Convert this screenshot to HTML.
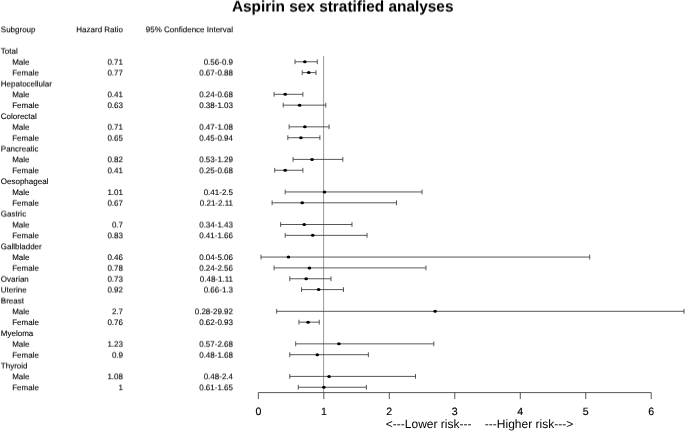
<!DOCTYPE html><html><head><meta charset="utf-8"><title>Aspirin sex stratified analyses</title>
<style>html,body{margin:0;padding:0;background:#fff}svg{display:block;filter:blur(0.35px)}text{text-rendering:geometricPrecision;font-family:"Liberation Sans",Arial,Helvetica,sans-serif;fill:#000}.t{font-size:8px;stroke:#000;stroke-width:0.1px}.a{font-size:10.6px;stroke:#000;stroke-width:0.14px}</style></head><body>
<svg width="685" height="432" viewBox="0 0 685 432">
<rect width="685" height="432" fill="#fff"/>
<defs>
<filter id="f25" x="-5%" y="-50%" width="110%" height="200%" color-interpolation-filters="sRGB"><feOffset dy="1" result="o"/><feComposite in="SourceGraphic" in2="o" operator="arithmetic" k2="0.75" k3="0.25"/></filter>
<filter id="f50" x="-5%" y="-50%" width="110%" height="200%" color-interpolation-filters="sRGB"><feOffset dy="1" result="o"/><feComposite in="SourceGraphic" in2="o" operator="arithmetic" k2="0.5" k3="0.5"/></filter>
<filter id="f75" x="-5%" y="-50%" width="110%" height="200%" color-interpolation-filters="sRGB"><feOffset dy="1" result="o"/><feComposite in="SourceGraphic" in2="o" operator="arithmetic" k2="0.25" k3="0.75"/></filter>
</defs>
<text x="342.7" y="11" filter="url(#f50)" text-anchor="middle" font-size="15.4" font-weight="bold">Aspirin sex stratified analyses</text>
<g filter="url(#f25)"><text class="t" x="0.8" y="32">Subgroup</text><text class="t" x="123" y="32" text-anchor="end">Hazard Ratio</text><text class="t" x="233" y="32" text-anchor="end">95% Confidence Interval</text></g>
<line x1="323.6" x2="323.6" y1="55.9" y2="392.6" stroke="#888" stroke-width="0.85"/>
<g filter="url(#f75)"><text class="t" x="0.8" y="53">Total</text></g>
<g filter="url(#f75)"><text class="t" x="12.2" y="64">Male</text><text class="t" x="123" y="64" text-anchor="end">0.71</text><text class="t" x="233" y="64" text-anchor="end">0.56-0.9</text></g>
<path d="M295.02 61.75H317.28M295.02 59.35v4.8M317.28 59.35v4.8" stroke="#444" stroke-width="0.9" fill="none"/>
<ellipse cx="304.84" cy="61.75" rx="1.8" ry="1.5" fill="#000"/>
<g filter="url(#f50)"><text class="t" x="12.2" y="75">Female</text><text class="t" x="123" y="75" text-anchor="end">0.77</text><text class="t" x="233" y="75" text-anchor="end">0.67-0.88</text></g>
<path d="M302.22 72.60H315.97M302.22 70.20v4.8M315.97 70.20v4.8" stroke="#444" stroke-width="0.9" fill="none"/>
<ellipse cx="308.77" cy="72.60" rx="1.8" ry="1.5" fill="#000"/>
<g filter="url(#f50)"><text class="t" x="0.8" y="86">Hepatocellular</text></g>
<g filter="url(#f25)"><text class="t" x="12.2" y="97">Male</text><text class="t" x="123" y="97" text-anchor="end">0.41</text><text class="t" x="233" y="97" text-anchor="end">0.24-0.68</text></g>
<path d="M274.07 94.30H302.88M274.07 91.90v4.8M302.88 91.90v4.8" stroke="#444" stroke-width="0.9" fill="none"/>
<ellipse cx="285.20" cy="94.30" rx="1.8" ry="1.5" fill="#000"/>
<g><text class="t" x="12.2" y="108">Female</text><text class="t" x="123" y="108" text-anchor="end">0.63</text><text class="t" x="233" y="108" text-anchor="end">0.38-1.03</text></g>
<path d="M283.23 105.15H325.79M283.23 102.75v4.8M325.79 102.75v4.8" stroke="#444" stroke-width="0.9" fill="none"/>
<ellipse cx="299.60" cy="105.15" rx="1.8" ry="1.5" fill="#000"/>
<g><text class="t" x="0.8" y="119">Colorectal</text></g>
<g filter="url(#f75)"><text class="t" x="12.2" y="129">Male</text><text class="t" x="123" y="129" text-anchor="end">0.71</text><text class="t" x="233" y="129" text-anchor="end">0.47-1.08</text></g>
<path d="M289.13 126.85H329.07M289.13 124.45v4.8M329.07 124.45v4.8" stroke="#444" stroke-width="0.9" fill="none"/>
<ellipse cx="304.84" cy="126.85" rx="1.8" ry="1.5" fill="#000"/>
<g filter="url(#f75)"><text class="t" x="12.2" y="140">Female</text><text class="t" x="123" y="140" text-anchor="end">0.65</text><text class="t" x="233" y="140" text-anchor="end">0.45-0.94</text></g>
<path d="M287.82 137.70H319.90M287.82 135.30v4.8M319.90 135.30v4.8" stroke="#444" stroke-width="0.9" fill="none"/>
<ellipse cx="300.91" cy="137.70" rx="1.8" ry="1.5" fill="#000"/>
<g filter="url(#f50)"><text class="t" x="0.8" y="151">Pancreatic</text></g>
<g filter="url(#f25)"><text class="t" x="12.2" y="162">Male</text><text class="t" x="123" y="162" text-anchor="end">0.82</text><text class="t" x="233" y="162" text-anchor="end">0.53-1.29</text></g>
<path d="M293.05 159.40H342.82M293.05 157.00v4.8M342.82 157.00v4.8" stroke="#444" stroke-width="0.9" fill="none"/>
<ellipse cx="312.04" cy="159.40" rx="1.8" ry="1.5" fill="#000"/>
<g filter="url(#f25)"><text class="t" x="12.2" y="173">Female</text><text class="t" x="123" y="173" text-anchor="end">0.41</text><text class="t" x="233" y="173" text-anchor="end">0.25-0.68</text></g>
<path d="M274.72 170.25H302.88M274.72 167.85v4.8M302.88 167.85v4.8" stroke="#444" stroke-width="0.9" fill="none"/>
<ellipse cx="285.20" cy="170.25" rx="1.8" ry="1.5" fill="#000"/>
<g><text class="t" x="0.8" y="184">Oesophageal</text></g>
<g><text class="t" x="12.2" y="195">Male</text><text class="t" x="123" y="195" text-anchor="end">1.01</text><text class="t" x="233" y="195" text-anchor="end">0.41-2.5</text></g>
<path d="M285.20 191.95H422.05M285.20 189.55v4.8M422.05 189.55v4.8" stroke="#444" stroke-width="0.9" fill="none"/>
<ellipse cx="324.48" cy="191.95" rx="1.8" ry="1.5" fill="#000"/>
<g filter="url(#f75)"><text class="t" x="12.2" y="205">Female</text><text class="t" x="123" y="205" text-anchor="end">0.67</text><text class="t" x="233" y="205" text-anchor="end">0.21-2.11</text></g>
<path d="M272.10 202.80H396.51M272.10 200.40v4.8M396.51 200.40v4.8" stroke="#444" stroke-width="0.9" fill="none"/>
<ellipse cx="302.22" cy="202.80" rx="1.8" ry="1.5" fill="#000"/>
<g filter="url(#f50)"><text class="t" x="0.8" y="216">Gastric</text></g>
<g filter="url(#f50)"><text class="t" x="12.2" y="227">Male</text><text class="t" x="123" y="227" text-anchor="end">0.7</text><text class="t" x="233" y="227" text-anchor="end">0.34-1.43</text></g>
<path d="M280.61 224.50H351.99M280.61 222.10v4.8M351.99 222.10v4.8" stroke="#444" stroke-width="0.9" fill="none"/>
<ellipse cx="304.19" cy="224.50" rx="1.8" ry="1.5" fill="#000"/>
<g filter="url(#f25)"><text class="t" x="12.2" y="238">Female</text><text class="t" x="123" y="238" text-anchor="end">0.83</text><text class="t" x="233" y="238" text-anchor="end">0.41-1.66</text></g>
<path d="M285.20 235.35H367.05M285.20 232.95v4.8M367.05 232.95v4.8" stroke="#444" stroke-width="0.9" fill="none"/>
<ellipse cx="312.70" cy="235.35" rx="1.8" ry="1.5" fill="#000"/>
<g filter="url(#f25)"><text class="t" x="0.8" y="249">Gallbladder</text></g>
<g><text class="t" x="12.2" y="260">Male</text><text class="t" x="123" y="260" text-anchor="end">0.46</text><text class="t" x="233" y="260" text-anchor="end">0.04-5.06</text></g>
<path d="M260.97 257.05H589.68M260.97 254.65v4.8M589.68 254.65v4.8" stroke="#444" stroke-width="0.9" fill="none"/>
<ellipse cx="288.47" cy="257.05" rx="1.8" ry="1.5" fill="#000"/>
<g filter="url(#f75)"><text class="t" x="12.2" y="270">Female</text><text class="t" x="123" y="270" text-anchor="end">0.78</text><text class="t" x="233" y="270" text-anchor="end">0.24-2.56</text></g>
<path d="M274.07 267.90H425.98M274.07 265.50v4.8M425.98 265.50v4.8" stroke="#444" stroke-width="0.9" fill="none"/>
<ellipse cx="309.42" cy="267.90" rx="1.8" ry="1.5" fill="#000"/>
<g filter="url(#f75)"><text class="t" x="0.8" y="281">Ovarian</text><text class="t" x="123" y="281" text-anchor="end">0.73</text><text class="t" x="233" y="281" text-anchor="end">0.48-1.11</text></g>
<path d="M289.78 278.75H331.03M289.78 276.35v4.8M331.03 276.35v4.8" stroke="#444" stroke-width="0.9" fill="none"/>
<ellipse cx="306.15" cy="278.75" rx="1.8" ry="1.5" fill="#000"/>
<g filter="url(#f50)"><text class="t" x="0.8" y="292">Uterine</text><text class="t" x="123" y="292" text-anchor="end">0.92</text><text class="t" x="233" y="292" text-anchor="end">0.66-1.3</text></g>
<path d="M301.57 289.60H343.47M301.57 287.20v4.8M343.47 287.20v4.8" stroke="#444" stroke-width="0.9" fill="none"/>
<ellipse cx="318.59" cy="289.60" rx="1.8" ry="1.5" fill="#000"/>
<g filter="url(#f50)"><text class="t" x="0.8" y="303">Breast</text></g>
<g filter="url(#f25)"><text class="t" x="12.2" y="314">Male</text><text class="t" x="123" y="314" text-anchor="end">2.7</text><text class="t" x="233" y="314" text-anchor="end">0.28-29.92</text></g>
<path d="M276.68 311.30H684.00M276.68 308.90v4.8M684.00 308.90v4.8" stroke="#444" stroke-width="0.9" fill="none"/>
<ellipse cx="435.15" cy="311.30" rx="1.8" ry="1.5" fill="#000"/>
<g><text class="t" x="12.2" y="325">Female</text><text class="t" x="123" y="325" text-anchor="end">0.76</text><text class="t" x="233" y="325" text-anchor="end">0.62-0.93</text></g>
<path d="M298.95 322.15H319.25M298.95 319.75v4.8M319.25 319.75v4.8" stroke="#444" stroke-width="0.9" fill="none"/>
<ellipse cx="308.11" cy="322.15" rx="1.8" ry="1.5" fill="#000"/>
<g><text class="t" x="0.8" y="336">Myeloma</text></g>
<g filter="url(#f75)"><text class="t" x="12.2" y="346">Male</text><text class="t" x="123" y="346" text-anchor="end">1.23</text><text class="t" x="233" y="346" text-anchor="end">0.57-2.68</text></g>
<path d="M295.67 343.85H433.84M295.67 341.45v4.8M433.84 341.45v4.8" stroke="#444" stroke-width="0.9" fill="none"/>
<ellipse cx="338.89" cy="343.85" rx="1.8" ry="1.5" fill="#000"/>
<g filter="url(#f75)"><text class="t" x="12.2" y="357">Female</text><text class="t" x="123" y="357" text-anchor="end">0.9</text><text class="t" x="233" y="357" text-anchor="end">0.48-1.68</text></g>
<path d="M289.78 354.70H368.36M289.78 352.30v4.8M368.36 352.30v4.8" stroke="#444" stroke-width="0.9" fill="none"/>
<ellipse cx="317.28" cy="354.70" rx="1.8" ry="1.5" fill="#000"/>
<g filter="url(#f50)"><text class="t" x="0.8" y="368">Thyroid</text></g>
<g filter="url(#f25)"><text class="t" x="12.2" y="379">Male</text><text class="t" x="123" y="379" text-anchor="end">1.08</text><text class="t" x="233" y="379" text-anchor="end">0.48-2.4</text></g>
<path d="M289.78 376.40H415.50M289.78 374.00v4.8M415.50 374.00v4.8" stroke="#444" stroke-width="0.9" fill="none"/>
<ellipse cx="329.07" cy="376.40" rx="1.8" ry="1.5" fill="#000"/>
<g filter="url(#f25)"><text class="t" x="12.2" y="390">Female</text><text class="t" x="123" y="390" text-anchor="end">1</text><text class="t" x="233" y="390" text-anchor="end">0.61-1.65</text></g>
<path d="M298.29 387.25H366.39M298.29 384.85v4.8M366.39 384.85v4.8" stroke="#444" stroke-width="0.9" fill="none"/>
<ellipse cx="323.83" cy="387.25" rx="1.8" ry="1.5" fill="#000"/>
<path d="M258.35 392.60H651.23M258.35 392.60v6.5M323.83 392.60v6.5M389.31 392.60v6.5M454.79 392.60v6.5M520.27 392.60v6.5M585.75 392.60v6.5M651.23 392.60v6.5" stroke="#444" stroke-width="0.9" fill="none"/>
<text class="a" x="258.35" y="415.2" text-anchor="middle">0</text>
<text class="a" x="323.83" y="415.2" text-anchor="middle">1</text>
<text class="a" x="389.31" y="415.2" text-anchor="middle">2</text>
<text class="a" x="454.79" y="415.2" text-anchor="middle">3</text>
<text class="a" x="520.27" y="415.2" text-anchor="middle">4</text>
<text class="a" x="585.75" y="415.2" text-anchor="middle">5</text>
<text class="a" x="651.23" y="415.2" text-anchor="middle">6</text>
<text x="479.5" y="427.8" text-anchor="middle" font-size="12" xml:space="preserve">&lt;---Lower risk---    ---Higher risk---&gt;</text>
</svg></body></html>
